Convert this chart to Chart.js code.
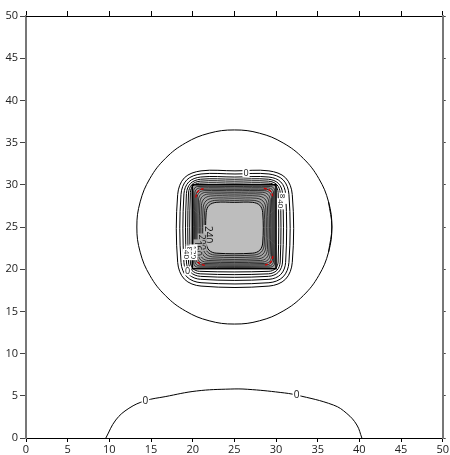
<!DOCTYPE html>
<html>
<head>
<meta charset="utf-8">
<script src="https://cdn.jsdelivr.net/npm/chart.js@4.4.1/dist/chart.umd.min.js"></script>
<style>
  html, body { margin: 0; padding: 0; background: #fff; }
  canvas { display: block; }
</style>
</head>
<body>
<canvas id="chart" width="450" height="455"></canvas>
<script>
// Axis range and tick step
const axisMin = 0;
const axisMax = 50;
const tickStep = 5;

// Circular level-0 contour around the plate (one lap, start point not repeated)
const rimX = [36.7, 36.3, 35.13, 33.27, 30.85, 28.03, 25.0, 21.97, 19.15, 16.73, 14.87, 13.7,
              13.3, 13.7, 14.87, 16.73, 19.15, 21.97, 25.0, 28.03, 30.85, 33.27, 35.13, 36.3];
const rimY = [25.0, 27.98, 30.75, 33.13, 34.96, 36.11, 36.5, 36.11, 34.96, 33.13, 30.75, 27.98,
              25.0, 22.02, 19.25, 16.87, 15.04, 13.89, 13.5, 13.89, 15.04, 16.87, 19.25, 22.02];

// Level-0 contour along the lower edge
const baseX = [9.58, 10.77, 12.35, 14.33, 16.7, 20.46, 24.5, 26.6, 30.5, 32.46, 36.9, 38.5, 39.7, 40.3];
const baseY = [0.0, 2.13, 3.52, 4.42, 4.9, 5.57, 5.8, 5.77, 5.4, 5.09, 3.9, 2.9, 1.54, 0.0];

// Rounded-square contours outside the plate: left, right, bottom, top edges and corner radius
const outerLeft   = [18.2, 18.6, 18.95, 19.25, 19.5, 19.72];
const outerRight  = [31.95, 31.55, 31.15, 30.78, 30.5, 30.25];
const outerBottom = [18.0, 18.4, 18.8, 19.15, 19.45, 19.75];
const outerTop    = [31.65, 31.28, 30.92, 30.66, 30.43, 30.2];
const outerCorner = [2.8, 2.4, 2.0, 1.7, 1.4, 1.1];

// Plate boundary: left, right, bottom, top
const plateEdges = [19.95, 30.0, 20.05, 30.0];

// Contours inside the plate
const innerLeft   = [20.12, 20.26, 20.4, 20.54, 20.69, 20.86, 21.05, 21.25, 21.44];
const innerRight  = [29.84, 29.71, 29.58, 29.45, 29.3, 29.14, 28.96, 28.77, 28.58];
const innerBottom = [20.24, 20.38, 20.53, 20.68, 20.85, 21.03, 21.23, 21.46, 21.68];
const innerTop    = [29.8, 29.63, 29.46, 29.3, 29.11, 28.9, 28.67, 28.41, 28.15];
const innerCorner = [0.5, 0.6, 0.7, 0.8, 0.9, 1.0, 1.1, 1.15, 1.2];

// Central plateau (highest level): left, right, bottom, top, corner radius
const coreEdges = [21.62, 28.4, 21.9, 27.92, 1.2];

// Dashed corner pieces of the critical contour
const redCornerX = [[20.35, 20.68, 21.45], [28.55, 29.32, 29.65], [29.65, 29.32, 28.55], [21.45, 20.68, 20.35]];
const redCornerY = [[28.5, 29.27, 29.6], [29.6, 29.27, 28.5], [21.55, 20.78, 20.45], [20.45, 20.78, 21.55]];

// Contour labels
const labelText = ['0', '0', '0', '0', '240', '200', '160', '120', '80', '40', '80', '40'];
const labelX    = [14.33, 32.46, 26.4, 19.4, 21.9, 21.15, 20.65, 20.1, 19.65, 19.3, 30.85, 30.6];
const labelY    = [4.42, 5.09, 31.45, 19.8, 24.1, 23.2, 22.5, 22.0, 22.15, 21.75, 28.4, 27.75];

// Label drawing styles (rotation in degrees, font size, background colour)
const labelAngle = [0, 0, 0, 0, 90, 90, 90, 90, 90, 90, 90, 90];
const labelSize  = [10, 10, 9, 9, 10, 9, 9, 8, 8, 8, 8, 8];
const labelBg    = ['#fff', '#fff', '#fff', '#fff', '#bdbdbd', '#aaaaaa', '#aaaaaa', '#fff', '#fff', '#fff', '#fff', '#fff'];

function zipXY(xs, ys) {
  return xs.map((x, i) => ({ x: x, y: ys[i] }));
}

// Wrap a lap of points so the spline closes smoothly where it starts
function closedLap(pts) {
  const n = pts.length;
  return [pts[n - 1]].concat(pts, [pts[0], pts[1]]);
}

// Closed rounded-square outline through its edge tangents and 45-degree corner points
function roundedLoop(l, r, b, t, c) {
  const k = 0.29 * c;
  const m = (l + r) / 2;
  return [
    { x: m, y: t }, { x: r - c, y: t }, { x: r - k, y: t - k }, { x: r, y: t - c },
    { x: r, y: b + c }, { x: r - k, y: b + k }, { x: r - c, y: b },
    { x: l + c, y: b }, { x: l + k, y: b + k }, { x: l, y: b + c },
    { x: l, y: t - c }, { x: l + k, y: t - k }, { x: l + c, y: t }, { x: m, y: t }
  ];
}

function lineSet(data, extra) {
  return Object.assign({
    data: data,
    showLine: true,
    borderColor: '#000',
    borderWidth: 1,
    pointRadius: 0,
    fill: false,
    tension: 0.35,
    order: 0
  }, extra || {});
}

const datasets = [];

datasets.push(lineSet(closedLap(zipXY(rimX, rimY)), { tension: 0.4 }));
datasets.push(lineSet(zipXY(baseX, baseY), { tension: 0.4 }));

outerLeft.forEach((l, i) => {
  datasets.push(lineSet(roundedLoop(l, outerRight[i], outerBottom[i], outerTop[i], outerCorner[i])));
});

// plate: grey fill with a sharp black border
const [pl, pr, pb, pt] = plateEdges;
datasets.push(lineSet(
  [{ x: pl, y: pt }, { x: pr, y: pt }, { x: pr, y: pb }, { x: pl, y: pb }, { x: pl, y: pt }],
  { tension: 0, fill: 'shape', backgroundColor: '#a6a6a6', borderWidth: 1.6, order: 20 }
));

// central plateau
datasets.push(lineSet(roundedLoop(coreEdges[0], coreEdges[1], coreEdges[2], coreEdges[3], coreEdges[4]),
  { fill: 'shape', backgroundColor: '#bdbdbd', order: 15 }));

innerLeft.forEach((l, i) => {
  datasets.push(lineSet(roundedLoop(l, innerRight[i], innerBottom[i], innerTop[i], innerCorner[i]),
    { borderWidth: 0.8, borderColor: '#111' }));
});

redCornerX.forEach((xs, i) => {
  datasets.push(lineSet(zipXY(xs, redCornerY[i]),
    { borderColor: '#d40000', borderWidth: 1.4, borderDash: [3, 2], tension: 0.4, order: -1 }));
});

const contourLabels = {
  id: 'contourLabels',
  afterDatasetsDraw(chart) {
    const ctx = chart.ctx;
    const xs = chart.scales.x, ys = chart.scales.y;
    ctx.save();
    ctx.textAlign = 'center';
    ctx.textBaseline = 'middle';
    labelText.forEach((txt, i) => {
      const px = xs.getPixelForValue(labelX[i]);
      const py = ys.getPixelForValue(labelY[i]);
      const sz = labelSize[i];
      ctx.font = sz + 'px "Open Sans", "DejaVu Sans", sans-serif';
      const w = ctx.measureText(txt).width;
      ctx.save();
      ctx.translate(px, py);
      ctx.rotate(labelAngle[i] * Math.PI / 180);
      ctx.fillStyle = labelBg[i];
      ctx.fillRect(-w / 2 - 1, -sz / 2, w + 2, sz);
      ctx.fillStyle = '#111';
      ctx.fillText(txt, 0, 0.5);
      ctx.restore();
    });
    ctx.restore();
  }
};

const tickFont = { family: '"Open Sans", "DejaVu Sans", sans-serif', size: 11 };

new Chart(document.getElementById('chart'), {
  type: 'scatter',
  data: { datasets: datasets },
  options: {
    responsive: false,
    animation: false,
    devicePixelRatio: 1,
    layout: { padding: 0 },
    plugins: { legend: { display: false }, tooltip: { enabled: false } },
    scales: {
      x: {
        type: 'linear', position: 'bottom', min: axisMin, max: axisMax,
        ticks: { stepSize: tickStep, font: tickFont, color: '#222', padding: 1, maxRotation: 0 },
        grid: { drawOnChartArea: false, tickLength: 4, tickColor: '#000' },
        border: { color: '#000', width: 1 },
        afterFit(s) { s.height = 17; }
      },
      y: {
        type: 'linear', position: 'left', min: axisMin, max: axisMax,
        ticks: { stepSize: tickStep, font: tickFont, color: '#222', padding: 2 },
        grid: { drawOnChartArea: false, tickLength: 6, tickColor: '#444' },
        border: { color: '#777', width: 2 },
        afterFit(s) { s.width = 26; }
      },
      x2: {
        type: 'linear', position: 'top', min: axisMin, max: axisMax,
        ticks: { stepSize: tickStep, display: false },
        grid: { drawOnChartArea: false, tickLength: 5, tickColor: '#000' },
        border: { color: '#000', width: 1 },
        afterFit(s) { s.height = 16; }
      },
      y2: {
        type: 'linear', position: 'right', min: axisMin, max: axisMax,
        ticks: { stepSize: tickStep, display: false },
        grid: { drawOnChartArea: false, tickLength: 3, tickColor: '#444' },
        border: { color: '#777', width: 2 },
        afterFit(s) { s.width = 3; }
      }
    }
  },
  plugins: [contourLabels]
});
</script>
</body>
</html>
